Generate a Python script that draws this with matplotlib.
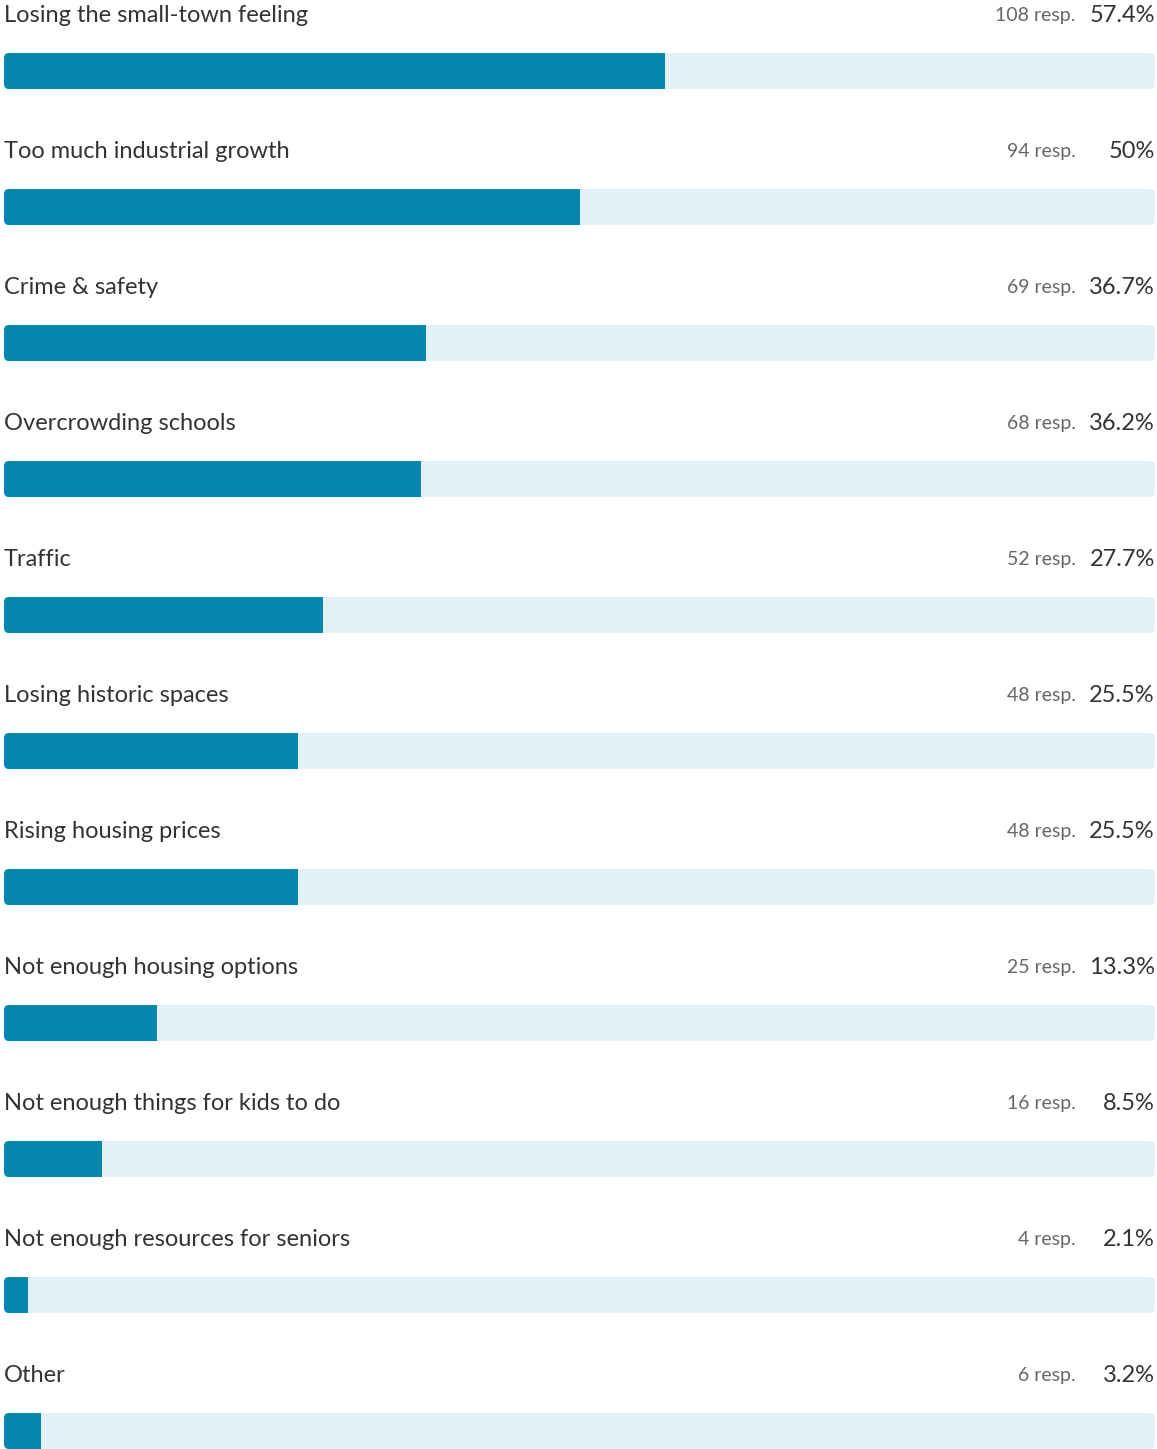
import matplotlib
matplotlib.use("Agg")
import matplotlib.pyplot as plt
from matplotlib.patches import FancyBboxPatch
from matplotlib.transforms import IdentityTransform

labels = ["Losing the small-town feeling", "Too much industrial growth", "Crime & safety",
          "Overcrowding schools", "Traffic", "Losing historic spaces", "Rising housing prices",
          "Not enough housing options", "Not enough things for kids to do",
          "Not enough resources for seniors", "Other"]
responses = [108, 94, 69, 68, 52, 48, 48, 25, 16, 4, 6]
percents = [57.4, 50, 36.7, 36.2, 27.7, 25.5, 25.5, 13.3, 8.5, 2.1, 3.2]

DARK = "#0387AF"
LIGHT = "#E3F1F6"
plt.rcParams['font.family'] = ['Lato', 'DejaVu Sans']

W, H, DPI = 1157, 1449, 100
fig = plt.figure(figsize=(W / DPI, H / DPI), dpi=DPI)
ax = fig.add_axes([4 / W, 0, 1151 / W, 1])

step = 136.0  # px between rows
ax.set_xlim(0, 100)
ax.set_ylim((H - 71) / step, -71 / step)
ax.axis('off')

bar_h = 36 / step
ys = list(range(len(labels)))
bg = ax.barh(ys, [100] * len(ys), height=bar_h, color=LIGHT, left=0)
fg = ax.barh(ys, percents, height=bar_h, color=DARK, left=0)

# rounded corners: clip each row by a rounded box in pixel space
fig.canvas.draw()
for b, f in zip(bg, fg):
    (x0, y0), (x1, y1) = ax.transData.transform([(b.get_x(), b.get_y()),
                                                  (b.get_x() + b.get_width(), b.get_y() + b.get_height())])
    clip = FancyBboxPatch((min(x0, x1), min(y0, y1)), abs(x1 - x0), abs(y1 - y0),
                          boxstyle="round,pad=0,rounding_size=5", transform=IdentityTransform())
    b.set_clip_path(clip)
    f.set_clip_path(clip)

off = 55 / step
for i, (lab, r, p) in enumerate(zip(labels, responses, percents)):
    ax.text(0, i - off, lab, ha='left', va='center', fontsize=17, color='#333333')
    ax.text(100, i - off, f"{p:g}%", ha='right', va='center', fontsize=17, color='#333333')
    ax.annotate(f"{r} resp.", xy=(100, i - off), xytext=(-57, 0), textcoords='offset points',
                ha='right', va='center', fontsize=14, color='#666666')

fig.savefig("out.png", dpi=DPI)
